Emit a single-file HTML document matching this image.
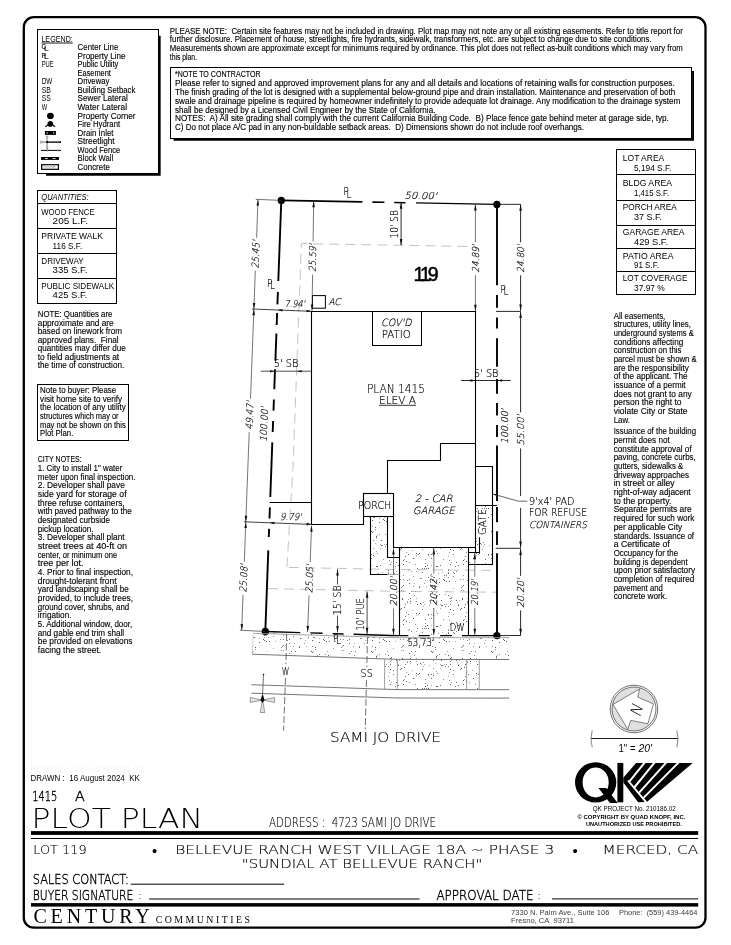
<!DOCTYPE html>
<html lang="en"><head><meta charset="utf-8"><title>Plot Plan - Lot 119</title>
<style>
html,body{margin:0;padding:0;background:#fff;}
body{width:731px;height:945px;overflow:hidden;}
svg{display:block;will-change:transform;}
text{font-family:"Liberation Sans", sans-serif;fill:#000;}
.bt{stroke:#000;stroke-width:0.13px;}
.b{font-weight:bold;}
.i{font-style:italic;}
.lt{font-family:"DejaVu Sans Light","DejaVu Sans","Liberation Sans", sans-serif;font-weight:200;}
.lt2{font-family:"DejaVu Sans Light","DejaVu Sans","Liberation Sans", sans-serif;font-weight:200;stroke:#000;stroke-width:0.14px;}
.lt3{font-family:"DejaVu Sans Light","DejaVu Sans","Liberation Sans", sans-serif;font-weight:200;stroke:#000;stroke-width:0.42px;}
.pl{font-family:"DejaVu Sans Light","DejaVu Sans","Liberation Sans", sans-serif;font-weight:200;stroke:#000;stroke-width:0.16px;}
.se{font-family:"Liberation Serif",serif;}
</style></head><body>
<svg width="731" height="945" viewBox="0 0 731 945">
<rect x="23.8" y="17.2" width="681.7" height="910.5" rx="10" ry="10" fill="none" stroke="#000" stroke-width="2.3"/>
<rect x="37.5" y="29.5" width="121" height="144" fill="none" stroke="#000" stroke-width="1" />
<path d="M46 174.85 H159.75 V35.7" fill="none" stroke="#000" stroke-width="1.8" />
<text x="41.4" y="41.9" font-size="9.6" textLength="31.4" lengthAdjust="spacingAndGlyphs">LEGEND:</text>
<line x1="41.4" y1="43.0" x2="72.8" y2="43.0" stroke="#000" stroke-width="0.9" />
<text x="77.6" y="49.9" font-size="8.3" textLength="40.7" lengthAdjust="spacingAndGlyphs" class="bt">Center Line</text>
<text x="77.6" y="58.5" font-size="8.3" textLength="47.9" lengthAdjust="spacingAndGlyphs" class="bt">Property Line</text>
<text x="77.6" y="67.0" font-size="8.3" textLength="40.7" lengthAdjust="spacingAndGlyphs" class="bt">Public Utility</text>
<text x="77.6" y="75.6" font-size="8.3" textLength="33.3" lengthAdjust="spacingAndGlyphs" class="bt">Easement</text>
<text x="77.6" y="84.2" font-size="8.3" textLength="31.8" lengthAdjust="spacingAndGlyphs" class="bt">Driveway</text>
<text x="77.6" y="92.8" font-size="8.3" textLength="57.7" lengthAdjust="spacingAndGlyphs" class="bt">Building Setback</text>
<text x="77.6" y="101.3" font-size="8.3" textLength="50.3" lengthAdjust="spacingAndGlyphs" class="bt">Sewer Lateral</text>
<text x="77.6" y="109.9" font-size="8.3" textLength="49.4" lengthAdjust="spacingAndGlyphs" class="bt">Water Lateral</text>
<text x="77.6" y="118.5" font-size="8.3" textLength="58.0" lengthAdjust="spacingAndGlyphs" class="bt">Property Corner</text>
<text x="77.6" y="127.0" font-size="8.3" textLength="42.5" lengthAdjust="spacingAndGlyphs" class="bt">Fire Hydrant</text>
<text x="77.6" y="135.6" font-size="8.3" textLength="35.9" lengthAdjust="spacingAndGlyphs" class="bt">Drain Inlet</text>
<text x="77.6" y="144.2" font-size="8.3" textLength="37.0" lengthAdjust="spacingAndGlyphs" class="bt">Streetlight</text>
<text x="77.6" y="152.7" font-size="8.3" textLength="42.5" lengthAdjust="spacingAndGlyphs" class="bt">Wood Fence</text>
<text x="77.6" y="161.3" font-size="8.3" textLength="35.5" lengthAdjust="spacingAndGlyphs" class="bt">Block Wall</text>
<text x="77.6" y="169.9" font-size="8.3" textLength="32.2" lengthAdjust="spacingAndGlyphs" class="bt">Concrete</text>
<text x="41.4" y="49.3" font-size="7.6" textLength="4.4" lengthAdjust="spacingAndGlyphs" style="stroke:#000;stroke-width:0.15">C</text>
<text x="44.0" y="50.8" font-size="7.6" textLength="4.6" lengthAdjust="spacingAndGlyphs" style="stroke:#000;stroke-width:0.15">L</text>
<text x="41.4" y="57.87" font-size="7.6" textLength="4.4" lengthAdjust="spacingAndGlyphs" style="stroke:#000;stroke-width:0.15">P</text>
<text x="44.0" y="59.37" font-size="7.6" textLength="4.6" lengthAdjust="spacingAndGlyphs" style="stroke:#000;stroke-width:0.15">L</text>
<text x="41.7" y="67.0" font-size="8.3" textLength="12.0" lengthAdjust="spacingAndGlyphs">PUE</text>
<text x="41.7" y="84.2" font-size="8.3" textLength="10.6" lengthAdjust="spacingAndGlyphs">DW</text>
<text x="41.7" y="92.8" font-size="8.3" textLength="9.1" lengthAdjust="spacingAndGlyphs">SB</text>
<text x="41.7" y="101.3" font-size="8.3" textLength="9.1" lengthAdjust="spacingAndGlyphs">SS</text>
<text x="41.7" y="109.9" font-size="8.3" textLength="5.4" lengthAdjust="spacingAndGlyphs">W</text>
<ellipse cx="50.4" cy="115.9" rx="3.4" ry="3.1" fill="#000"/>
<circle cx="50.3" cy="123.9" r="2.8" fill="#000"/>
<line x1="45.3" y1="126.7" x2="48.2" y2="124.8" stroke="#000" stroke-width="1.2" />
<line x1="55.1" y1="126.7" x2="52.4" y2="124.8" stroke="#000" stroke-width="1.2" />
<rect x="44.9" y="131.0" width="11.0" height="3.9" fill="#000" stroke="#000" stroke-width="0" />
<circle cx="47.2" cy="132.9" r="0.65" fill="#fff"/>
<circle cx="53.7" cy="132.9" r="0.65" fill="#fff"/>
<polygon points="47.1,142.1 40.2,140.9 40.2,143.3" fill="#bbb" stroke="#777" stroke-width="0.4"/>
<polygon points="47.1,142.1 46.2,136.0 48.0,136.0" fill="#bbb" stroke="#777" stroke-width="0.4"/>
<polygon points="47.1,142.1 46.2,149.0 48.0,149.0" fill="#bbb" stroke="#777" stroke-width="0.4"/>
<line x1="46.5" y1="142.1" x2="60.8" y2="142.1" stroke="#000" stroke-width="1.3" />
<rect x="46.2" y="141.1" width="1.9" height="2.0" fill="#000" stroke="#000" stroke-width="0" />
<rect x="59.6" y="141.3" width="1.3" height="1.6" fill="#000" stroke="#000" stroke-width="0" />
<line x1="41.0" y1="150.4" x2="61.0" y2="150.4" stroke="#000" stroke-width="1.0" />
<line x1="47.5" y1="149.3" x2="47.5" y2="151.5" stroke="#888" stroke-width="0.7" />
<line x1="57.5" y1="149.3" x2="57.5" y2="151.5" stroke="#888" stroke-width="0.7" />
<rect x="41.0" y="157.0" width="18.0" height="2.9" fill="#000" stroke="#000" stroke-width="0" />
<line x1="44.9" y1="158.5" x2="47.9" y2="158.5" stroke="#fff" stroke-width="0.8" />
<line x1="52.7" y1="158.5" x2="55.6" y2="158.5" stroke="#fff" stroke-width="0.8" />
<rect x="41.6" y="164.7" width="16.8" height="4.6" fill="none" stroke="#000" stroke-width="1.2" />
<rect x="42.3" y="165.4" width="15.4" height="3.2" fill="url(#stp)" stroke="#000" stroke-width="0" />
<path d="M43.5 167.8 L45 166.2 L46.5 167.8 L48 166.2 L49.5 167.8 L51 166.2 L52.5 167.8 L54 166.2 L55.5 167.6" fill="none" stroke="#555" stroke-width="0.5" />
<text x="169.8" y="33.8" font-size="8.3" textLength="513.0" lengthAdjust="spacingAndGlyphs" class="bt">PLEASE NOTE:  Certain site features may not be included in drawing. Plot map may not note any or all existing easements. Refer to title report for</text>
<text x="169.8" y="42.4" font-size="8.3" textLength="481.8" lengthAdjust="spacingAndGlyphs" class="bt">further disclosure. Placement of house, streetlights, fire hydrants, sidewalk, transformers, etc. are subject to change due to site conditions.</text>
<text x="169.8" y="51.1" font-size="8.3" textLength="513.0" lengthAdjust="spacingAndGlyphs" class="bt">Measurements shown are approximate except for minimums required by ordinance. This plot does not reflect as-built conditions which may vary from</text>
<text x="169.8" y="59.7" font-size="8.3" textLength="27.1" lengthAdjust="spacingAndGlyphs" class="bt">this plan.</text>
<rect x="170.5" y="67.5" width="521" height="71" fill="none" stroke="#000" stroke-width="1" />
<path d="M173.5 139.9 H693.05 V71" fill="none" stroke="#000" stroke-width="1.9" />
<text x="175.0" y="77.3" font-size="8.3" textLength="85.5" lengthAdjust="spacingAndGlyphs" class="bt">*NOTE TO CONTRACTOR</text>
<text x="175.0" y="86.1" font-size="8.3" textLength="499.8" lengthAdjust="spacingAndGlyphs" class="bt">Please refer to signed and approved improvement plans for any and all details and locations of retaining walls for construction purposes.</text>
<text x="175.0" y="94.9" font-size="8.3" textLength="500.2" lengthAdjust="spacingAndGlyphs" class="bt">The finish grading of the lot is designed with a supplemental below-ground pipe and drain installation. Maintenance and preservation of both</text>
<text x="175.0" y="103.7" font-size="8.3" textLength="505.4" lengthAdjust="spacingAndGlyphs" class="bt">swale and drainage pipeline is required by homeowner indefinitely to provide adequate lot drainage. Any modification to the drainage system</text>
<text x="175.0" y="112.5" font-size="8.3" textLength="260.4" lengthAdjust="spacingAndGlyphs" class="bt">shall be designed by a Licensed Civil Engineer by the State of California.</text>
<text x="175.0" y="121.3" font-size="8.3" textLength="493.9" lengthAdjust="spacingAndGlyphs" class="bt">NOTES:  A) All site grading shall comply with the current California Building Code.  B) Place fence gate behind meter at garage side, typ.</text>
<text x="175.0" y="130.1" font-size="8.3" textLength="409.1" lengthAdjust="spacingAndGlyphs" class="bt">C) Do not place A/C pad in any non-buildable setback areas.  D) Dimensions shown do not include roof overhangs.</text>
<rect x="37.5" y="190.5" width="79" height="113" fill="none" stroke="#000" stroke-width="1" />
<line x1="37.5" y1="203.5" x2="116.5" y2="203.5" stroke="#000" stroke-width="1" />
<line x1="37.5" y1="228.5" x2="116.5" y2="228.5" stroke="#000" stroke-width="1" />
<line x1="37.5" y1="253.5" x2="116.5" y2="253.5" stroke="#000" stroke-width="1" />
<line x1="37.5" y1="278.5" x2="116.5" y2="278.5" stroke="#000" stroke-width="1" />
<text x="41.3" y="199.5" font-size="8.2" textLength="47.4" lengthAdjust="spacingAndGlyphs" class="i">QUANTITIES:</text>
<text x="41.3" y="214.9" font-size="9.0" textLength="53.3" lengthAdjust="spacingAndGlyphs">WOOD FENCE</text>
<text x="52.6" y="223.8" font-size="9.0" textLength="35.5" lengthAdjust="spacingAndGlyphs">205 L.F.</text>
<text x="41.3" y="239.2" font-size="9.0" textLength="61.6" lengthAdjust="spacingAndGlyphs">PRIVATE WALK</text>
<text x="52.6" y="248.7" font-size="9.0" textLength="29.6" lengthAdjust="spacingAndGlyphs">116 S.F.</text>
<text x="41.3" y="263.8" font-size="9.0" textLength="42.3" lengthAdjust="spacingAndGlyphs">DRIVEWAY</text>
<text x="52.6" y="273.2" font-size="9.0" textLength="34.9" lengthAdjust="spacingAndGlyphs">335 S.F.</text>
<text x="41.3" y="288.6" font-size="9.0" textLength="72.8" lengthAdjust="spacingAndGlyphs">PUBLIC SIDEWALK</text>
<text x="52.6" y="298.1" font-size="9.0" textLength="34.9" lengthAdjust="spacingAndGlyphs">425 S.F.</text>
<text x="37.8" y="316.9" font-size="8.6" textLength="74.6" lengthAdjust="spacingAndGlyphs" class="bt">NOTE: Quantities are</text>
<text x="37.8" y="325.5" font-size="8.6" textLength="75.9" lengthAdjust="spacingAndGlyphs" class="bt">approximate and are</text>
<text x="37.8" y="334.1" font-size="8.6" textLength="84.3" lengthAdjust="spacingAndGlyphs" class="bt">based on linework from</text>
<text x="37.8" y="342.7" font-size="8.6" textLength="80.8" lengthAdjust="spacingAndGlyphs" class="bt">approved plans.  Final</text>
<text x="37.8" y="351.2" font-size="8.6" textLength="87.9" lengthAdjust="spacingAndGlyphs" class="bt">quantities may differ due</text>
<text x="37.8" y="359.8" font-size="8.6" textLength="81.4" lengthAdjust="spacingAndGlyphs" class="bt">to field adjustments at</text>
<text x="37.8" y="368.4" font-size="8.6" textLength="86.4" lengthAdjust="spacingAndGlyphs" class="bt">the time of construction.</text>
<rect x="37.5" y="384.5" width="91" height="56" fill="none" stroke="#000" stroke-width="1" />
<text x="40.1" y="393.2" font-size="8.6" textLength="76.1" lengthAdjust="spacingAndGlyphs" class="bt">Note to buyer: Please</text>
<text x="40.1" y="401.8" font-size="8.6" textLength="82.0" lengthAdjust="spacingAndGlyphs" class="bt">visit home site to verify</text>
<text x="40.1" y="410.4" font-size="8.6" textLength="85.6" lengthAdjust="spacingAndGlyphs" class="bt">the location of any utility</text>
<text x="40.1" y="419.0" font-size="8.6" textLength="78.5" lengthAdjust="spacingAndGlyphs" class="bt">structures which may or</text>
<text x="40.1" y="427.5" font-size="8.6" textLength="85.6" lengthAdjust="spacingAndGlyphs" class="bt">may not be shown on this</text>
<text x="40.1" y="436.1" font-size="8.6" textLength="33.2" lengthAdjust="spacingAndGlyphs" class="bt">Plot Plan.</text>
<text x="37.8" y="462.3" font-size="8.6" textLength="43.9" lengthAdjust="spacingAndGlyphs" class="bt">CITY NOTES:</text>
<text x="37.8" y="471.0" font-size="8.6" textLength="84.5" lengthAdjust="spacingAndGlyphs" class="bt">1. City to install 1" water</text>
<text x="37.8" y="479.6" font-size="8.6" textLength="97.7" lengthAdjust="spacingAndGlyphs" class="bt">meter upon final inspection.</text>
<text x="37.8" y="488.3" font-size="8.6" textLength="87.0" lengthAdjust="spacingAndGlyphs" class="bt">2. Developer shall pave</text>
<text x="37.8" y="497.0" font-size="8.6" textLength="88.8" lengthAdjust="spacingAndGlyphs" class="bt">side yard for storage of</text>
<text x="37.8" y="505.6" font-size="8.6" textLength="86.8" lengthAdjust="spacingAndGlyphs" class="bt">three refuse containers,</text>
<text x="37.8" y="514.3" font-size="8.6" textLength="93.9" lengthAdjust="spacingAndGlyphs" class="bt">with paved pathway to the</text>
<text x="37.8" y="523.0" font-size="8.6" textLength="72.3" lengthAdjust="spacingAndGlyphs" class="bt">designated curbside</text>
<text x="37.8" y="531.6" font-size="8.6" textLength="55.8" lengthAdjust="spacingAndGlyphs" class="bt">pickup location.</text>
<text x="37.8" y="540.3" font-size="8.6" textLength="86.8" lengthAdjust="spacingAndGlyphs" class="bt">3. Developer shall plant</text>
<text x="37.8" y="549.0" font-size="8.6" textLength="89.3" lengthAdjust="spacingAndGlyphs" class="bt">street trees at 40-ft on</text>
<text x="37.8" y="557.6" font-size="8.6" textLength="79.4" lengthAdjust="spacingAndGlyphs" class="bt">center, or minimum one</text>
<text x="37.8" y="566.3" font-size="8.6" textLength="45.7" lengthAdjust="spacingAndGlyphs" class="bt">tree per lot.</text>
<text x="37.8" y="575.0" font-size="8.6" textLength="95.2" lengthAdjust="spacingAndGlyphs" class="bt">4. Prior to final inspection,</text>
<text x="37.8" y="583.6" font-size="8.6" textLength="78.7" lengthAdjust="spacingAndGlyphs" class="bt">drought-tolerant front</text>
<text x="37.8" y="592.3" font-size="8.6" textLength="90.9" lengthAdjust="spacingAndGlyphs" class="bt">yard landscaping shall be</text>
<text x="37.8" y="601.0" font-size="8.6" textLength="95.2" lengthAdjust="spacingAndGlyphs" class="bt">provided, to include trees,</text>
<text x="37.8" y="609.6" font-size="8.6" textLength="91.4" lengthAdjust="spacingAndGlyphs" class="bt">ground cover, shrubs, and</text>
<text x="37.8" y="618.3" font-size="8.6" textLength="33.7" lengthAdjust="spacingAndGlyphs" class="bt">irrigation.</text>
<text x="37.8" y="627.0" font-size="8.6" textLength="94.4" lengthAdjust="spacingAndGlyphs" class="bt">5. Additional window, door,</text>
<text x="37.8" y="635.6" font-size="8.6" textLength="86.3" lengthAdjust="spacingAndGlyphs" class="bt">and gable end trim shall</text>
<text x="37.8" y="644.3" font-size="8.6" textLength="94.7" lengthAdjust="spacingAndGlyphs" class="bt">be provided on elevations</text>
<text x="37.8" y="653.0" font-size="8.6" textLength="63.4" lengthAdjust="spacingAndGlyphs" class="bt">facing the street.</text>
<rect x="616.5" y="149.5" width="79" height="145" fill="none" stroke="#000" stroke-width="1" />
<line x1="616.5" y1="174.5" x2="695.5" y2="174.5" stroke="#000" stroke-width="1" />
<line x1="616.5" y1="200.5" x2="695.5" y2="200.5" stroke="#000" stroke-width="1" />
<line x1="616.5" y1="225.5" x2="695.5" y2="225.5" stroke="#000" stroke-width="1" />
<line x1="616.5" y1="248.5" x2="695.5" y2="248.5" stroke="#000" stroke-width="1" />
<line x1="616.5" y1="271.5" x2="695.5" y2="271.5" stroke="#000" stroke-width="1" />
<text x="622.8" y="160.8" font-size="9.0" textLength="41.5" lengthAdjust="spacingAndGlyphs">LOT AREA</text>
<text x="634.0" y="170.9" font-size="9.0" textLength="37.4" lengthAdjust="spacingAndGlyphs">5,194 S.F.</text>
<text x="622.8" y="185.7" font-size="9.0" textLength="49.2" lengthAdjust="spacingAndGlyphs">BLDG AREA</text>
<text x="634.0" y="195.7" font-size="9.0" textLength="35.1" lengthAdjust="spacingAndGlyphs">1,415 S.F.</text>
<text x="622.8" y="210.4" font-size="9.0" textLength="54.0" lengthAdjust="spacingAndGlyphs">PORCH AREA</text>
<text x="634.0" y="220.2" font-size="9.0" textLength="28.0" lengthAdjust="spacingAndGlyphs">37 S.F.</text>
<text x="622.8" y="235.1" font-size="9.0" textLength="61.7" lengthAdjust="spacingAndGlyphs">GARAGE AREA</text>
<text x="634.0" y="245.1" font-size="9.0" textLength="34.1" lengthAdjust="spacingAndGlyphs">429 S.F.</text>
<text x="622.8" y="258.8" font-size="9.0" textLength="50.7" lengthAdjust="spacingAndGlyphs">PATIO AREA</text>
<text x="634.0" y="268.3" font-size="9.0" textLength="24.9" lengthAdjust="spacingAndGlyphs">91 S.F.</text>
<text x="622.8" y="281.4" font-size="9.0" textLength="64.6" lengthAdjust="spacingAndGlyphs">LOT COVERAGE</text>
<text x="634.0" y="291.4" font-size="9.0" textLength="30.8" lengthAdjust="spacingAndGlyphs">37.97 %</text>
<text x="613.7" y="318.6" font-size="8.6" textLength="51.6" lengthAdjust="spacingAndGlyphs" class="bt">All easements,</text>
<text x="613.7" y="327.3" font-size="8.6" textLength="77.3" lengthAdjust="spacingAndGlyphs" class="bt">structures, utility lines,</text>
<text x="613.7" y="336.0" font-size="8.6" textLength="80.1" lengthAdjust="spacingAndGlyphs" class="bt">underground systems &amp;</text>
<text x="613.7" y="344.6" font-size="8.6" textLength="69.5" lengthAdjust="spacingAndGlyphs" class="bt">conditions affecting</text>
<text x="613.7" y="353.3" font-size="8.6" textLength="67.8" lengthAdjust="spacingAndGlyphs" class="bt">construction on this</text>
<text x="613.7" y="362.0" font-size="8.6" textLength="83.1" lengthAdjust="spacingAndGlyphs" class="bt">parcel must be shown &amp;</text>
<text x="613.7" y="370.7" font-size="8.6" textLength="75.3" lengthAdjust="spacingAndGlyphs" class="bt">are the responsibility</text>
<text x="613.7" y="379.3" font-size="8.6" textLength="73.9" lengthAdjust="spacingAndGlyphs" class="bt">of the applicant. The</text>
<text x="613.7" y="388.0" font-size="8.6" textLength="71.9" lengthAdjust="spacingAndGlyphs" class="bt">issuance of a permit</text>
<text x="613.7" y="396.7" font-size="8.6" textLength="78.0" lengthAdjust="spacingAndGlyphs" class="bt">does not grant to any</text>
<text x="613.7" y="405.4" font-size="8.6" textLength="67.8" lengthAdjust="spacingAndGlyphs" class="bt">person the right to</text>
<text x="613.7" y="414.0" font-size="8.6" textLength="73.9" lengthAdjust="spacingAndGlyphs" class="bt">violate City or State</text>
<text x="613.7" y="422.7" font-size="8.6" textLength="16.3" lengthAdjust="spacingAndGlyphs" class="bt">Law.</text>
<text x="613.7" y="434.2" font-size="8.6" textLength="82.4" lengthAdjust="spacingAndGlyphs" class="bt">Issuance of the building</text>
<text x="613.7" y="442.9" font-size="8.6" textLength="56.0" lengthAdjust="spacingAndGlyphs" class="bt">permit does not</text>
<text x="613.7" y="451.6" font-size="8.6" textLength="78.0" lengthAdjust="spacingAndGlyphs" class="bt">constitute approval of</text>
<text x="613.7" y="460.3" font-size="8.6" textLength="82.1" lengthAdjust="spacingAndGlyphs" class="bt">paving, concrete curbs,</text>
<text x="613.7" y="469.0" font-size="8.6" textLength="69.5" lengthAdjust="spacingAndGlyphs" class="bt">gutters, sidewalks &amp;</text>
<text x="613.7" y="477.6" font-size="8.6" textLength="75.3" lengthAdjust="spacingAndGlyphs" class="bt">driveway approaches</text>
<text x="613.7" y="486.3" font-size="8.6" textLength="61.0" lengthAdjust="spacingAndGlyphs" class="bt">in street or alley</text>
<text x="613.7" y="495.0" font-size="8.6" textLength="77.0" lengthAdjust="spacingAndGlyphs" class="bt">right-of-way adjacent</text>
<text x="613.7" y="503.7" font-size="8.6" textLength="57.7" lengthAdjust="spacingAndGlyphs" class="bt">to the property.</text>
<text x="613.7" y="512.4" font-size="8.6" textLength="78.0" lengthAdjust="spacingAndGlyphs" class="bt">Separate permits are</text>
<text x="613.7" y="521.1" font-size="8.6" textLength="80.7" lengthAdjust="spacingAndGlyphs" class="bt">required for such work</text>
<text x="613.7" y="529.8" font-size="8.6" textLength="68.5" lengthAdjust="spacingAndGlyphs" class="bt">per applicable City</text>
<text x="613.7" y="538.5" font-size="8.6" textLength="80.4" lengthAdjust="spacingAndGlyphs" class="bt">standards. Issuance of</text>
<text x="613.7" y="547.2" font-size="8.6" textLength="56.0" lengthAdjust="spacingAndGlyphs" class="bt">a Certificate of</text>
<text x="613.7" y="555.9" font-size="8.6" textLength="64.4" lengthAdjust="spacingAndGlyphs" class="bt">Occupancy for the</text>
<text x="613.7" y="564.5" font-size="8.6" textLength="73.9" lengthAdjust="spacingAndGlyphs" class="bt">building is dependent</text>
<text x="613.7" y="573.2" font-size="8.6" textLength="81.4" lengthAdjust="spacingAndGlyphs" class="bt">upon prior satisfactory</text>
<text x="613.7" y="581.9" font-size="8.6" textLength="80.7" lengthAdjust="spacingAndGlyphs" class="bt">completion of required</text>
<text x="613.7" y="590.6" font-size="8.6" textLength="49.2" lengthAdjust="spacingAndGlyphs" class="bt">pavement and</text>
<text x="613.7" y="599.3" font-size="8.6" textLength="53.6" lengthAdjust="spacingAndGlyphs" class="bt">concrete work.</text>
<defs><pattern id="stp" width="60" height="60" patternUnits="userSpaceOnUse"><rect x="28" y="55" width="1" height="1" fill="#000" fill-opacity="0.65"/><rect x="28" y="32" width="1" height="1" fill="#000" fill-opacity="0.45"/><rect x="11" y="51" width="1" height="1" fill="#000" fill-opacity="0.65"/><rect x="40" y="39" width="1" height="1" fill="#000" fill-opacity="0.45"/><rect x="6" y="28" width="1" height="1" fill="#000" fill-opacity="0.55"/><rect x="9" y="5" width="1" height="1" fill="#000" fill-opacity="0.35"/><rect x="38" y="25" width="1" height="1" fill="#000" fill-opacity="0.65"/><rect x="41" y="47" width="1" height="1" fill="#000" fill-opacity="0.45"/><rect x="39" y="0" width="1" height="1" fill="#000" fill-opacity="0.35"/><rect x="3" y="2" width="1" height="1" fill="#000" fill-opacity="0.45"/><rect x="56" y="15" width="1" height="1" fill="#000" fill-opacity="0.35"/><rect x="49" y="29" width="1" height="1" fill="#000" fill-opacity="0.55"/><rect x="28" y="37" width="1" height="1" fill="#000" fill-opacity="0.45"/><rect x="33" y="14" width="1" height="1" fill="#000" fill-opacity="0.55"/><rect x="31" y="0" width="1" height="1" fill="#000" fill-opacity="0.35"/><rect x="29" y="41" width="1" height="1" fill="#000" fill-opacity="0.55"/><rect x="26" y="35" width="1" height="1" fill="#000" fill-opacity="0.35"/><rect x="45" y="16" width="1" height="1" fill="#000" fill-opacity="0.55"/><rect x="48" y="14" width="1" height="1" fill="#000" fill-opacity="0.55"/><rect x="1" y="4" width="1" height="1" fill="#000" fill-opacity="0.35"/><rect x="25" y="6" width="1" height="1" fill="#000" fill-opacity="0.55"/><rect x="24" y="4" width="1" height="1" fill="#000" fill-opacity="0.35"/><rect x="54" y="43" width="1" height="1" fill="#000" fill-opacity="0.35"/><rect x="13" y="13" width="1" height="1" fill="#000" fill-opacity="0.35"/><rect x="30" y="24" width="1" height="1" fill="#000" fill-opacity="0.65"/><rect x="26" y="4" width="1" height="1" fill="#000" fill-opacity="0.45"/><rect x="49" y="43" width="1" height="1" fill="#000" fill-opacity="0.55"/><rect x="21" y="5" width="1" height="1" fill="#000" fill-opacity="0.55"/><rect x="21" y="0" width="1" height="1" fill="#000" fill-opacity="0.65"/><rect x="48" y="59" width="1" height="1" fill="#000" fill-opacity="0.35"/><rect x="8" y="15" width="1" height="1" fill="#000" fill-opacity="0.35"/><rect x="0" y="3" width="1" height="1" fill="#000" fill-opacity="0.65"/><rect x="51" y="31" width="1" height="1" fill="#000" fill-opacity="0.45"/><rect x="43" y="35" width="1" height="1" fill="#000" fill-opacity="0.45"/><rect x="12" y="46" width="1" height="1" fill="#000" fill-opacity="0.45"/><rect x="26" y="41" width="1" height="1" fill="#000" fill-opacity="0.65"/><rect x="7" y="25" width="1" height="1" fill="#000" fill-opacity="0.65"/><rect x="13" y="0" width="1" height="1" fill="#000" fill-opacity="0.55"/><rect x="55" y="51" width="1" height="1" fill="#000" fill-opacity="0.55"/><rect x="56" y="1" width="1" height="1" fill="#000" fill-opacity="0.45"/><rect x="11" y="25" width="1" height="1" fill="#000" fill-opacity="0.35"/><rect x="2" y="9" width="1" height="1" fill="#000" fill-opacity="0.45"/><rect x="28" y="16" width="1" height="1" fill="#000" fill-opacity="0.35"/><rect x="49" y="39" width="1" height="1" fill="#000" fill-opacity="0.55"/><rect x="53" y="18" width="1" height="1" fill="#000" fill-opacity="0.65"/><rect x="4" y="4" width="1" height="1" fill="#000" fill-opacity="0.35"/><rect x="13" y="37" width="1" height="1" fill="#000" fill-opacity="0.45"/><rect x="0" y="38" width="1" height="1" fill="#000" fill-opacity="0.55"/><rect x="23" y="39" width="1" height="1" fill="#000" fill-opacity="0.65"/><rect x="8" y="37" width="1" height="1" fill="#000" fill-opacity="0.65"/><rect x="53" y="36" width="1" height="1" fill="#000" fill-opacity="0.45"/><rect x="55" y="24" width="1" height="1" fill="#000" fill-opacity="0.45"/><rect x="40" y="9" width="1" height="1" fill="#000" fill-opacity="0.55"/><rect x="58" y="14" width="1" height="1" fill="#000" fill-opacity="0.45"/><rect x="46" y="12" width="1" height="1" fill="#000" fill-opacity="0.45"/><rect x="47" y="40" width="1" height="1" fill="#000" fill-opacity="0.45"/><rect x="43" y="24" width="1" height="1" fill="#000" fill-opacity="0.65"/><rect x="38" y="5" width="1" height="1" fill="#000" fill-opacity="0.65"/><rect x="3" y="6" width="1" height="1" fill="#000" fill-opacity="0.35"/><rect x="2" y="32" width="1" height="1" fill="#000" fill-opacity="0.55"/><rect x="15" y="47" width="1" height="1" fill="#000" fill-opacity="0.65"/><rect x="16" y="26" width="1" height="1" fill="#000" fill-opacity="0.65"/><rect x="18" y="33" width="1" height="1" fill="#000" fill-opacity="0.45"/><rect x="59" y="46" width="1" height="1" fill="#000" fill-opacity="0.35"/><rect x="8" y="14" width="1" height="1" fill="#000" fill-opacity="0.65"/><rect x="35" y="41" width="1" height="1" fill="#000" fill-opacity="0.35"/><rect x="17" y="13" width="1" height="1" fill="#000" fill-opacity="0.45"/><rect x="47" y="1" width="1" height="1" fill="#000" fill-opacity="0.35"/><rect x="17" y="26" width="1" height="1" fill="#000" fill-opacity="0.65"/><rect x="15" y="3" width="1" height="1" fill="#000" fill-opacity="0.35"/><rect x="11" y="18" width="1" height="1" fill="#000" fill-opacity="0.55"/><rect x="33" y="36" width="1" height="1" fill="#000" fill-opacity="0.45"/><rect x="5" y="23" width="1" height="1" fill="#000" fill-opacity="0.45"/><rect x="57" y="28" width="1" height="1" fill="#000" fill-opacity="0.55"/><rect x="42" y="46" width="1" height="1" fill="#000" fill-opacity="0.45"/><rect x="37" y="2" width="1" height="1" fill="#000" fill-opacity="0.35"/><rect x="30" y="58" width="1" height="1" fill="#000" fill-opacity="0.55"/><rect x="44" y="19" width="1" height="1" fill="#000" fill-opacity="0.35"/><rect x="1" y="38" width="1" height="1" fill="#000" fill-opacity="0.35"/><rect x="30" y="4" width="1" height="1" fill="#000" fill-opacity="0.55"/><rect x="20" y="8" width="1" height="1" fill="#000" fill-opacity="0.35"/><rect x="4" y="28" width="1" height="1" fill="#000" fill-opacity="0.55"/><rect x="47" y="2" width="1" height="1" fill="#000" fill-opacity="0.45"/><rect x="50" y="58" width="1" height="1" fill="#000" fill-opacity="0.55"/><rect x="22" y="5" width="1" height="1" fill="#000" fill-opacity="0.65"/><rect x="57" y="4" width="1" height="1" fill="#000" fill-opacity="0.65"/><rect x="50" y="1" width="1" height="1" fill="#000" fill-opacity="0.65"/><rect x="36" y="0" width="1" height="1" fill="#000" fill-opacity="0.65"/><rect x="24" y="37" width="1" height="1" fill="#000" fill-opacity="0.35"/><rect x="38" y="4" width="1" height="1" fill="#000" fill-opacity="0.35"/><rect x="5" y="40" width="1" height="1" fill="#000" fill-opacity="0.35"/><rect x="16" y="56" width="1" height="1" fill="#000" fill-opacity="0.65"/><rect x="46" y="21" width="1" height="1" fill="#000" fill-opacity="0.65"/><rect x="59" y="47" width="1" height="1" fill="#000" fill-opacity="0.65"/><rect x="28" y="29" width="1" height="1" fill="#000" fill-opacity="0.35"/><rect x="33" y="48" width="1" height="1" fill="#000" fill-opacity="0.35"/><rect x="19" y="38" width="1" height="1" fill="#000" fill-opacity="0.35"/><rect x="30" y="1" width="1" height="1" fill="#000" fill-opacity="0.45"/><rect x="44" y="7" width="1" height="1" fill="#000" fill-opacity="0.65"/><rect x="42" y="58" width="1" height="1" fill="#000" fill-opacity="0.65"/><rect x="16" y="57" width="1" height="1" fill="#000" fill-opacity="0.35"/><rect x="23" y="19" width="1" height="1" fill="#000" fill-opacity="0.45"/><rect x="43" y="39" width="1" height="1" fill="#000" fill-opacity="0.45"/><rect x="33" y="10" width="1" height="1" fill="#000" fill-opacity="0.55"/><rect x="42" y="59" width="1" height="1" fill="#000" fill-opacity="0.65"/><rect x="31" y="57" width="1" height="1" fill="#000" fill-opacity="0.45"/><rect x="20" y="25" width="1" height="1" fill="#000" fill-opacity="0.55"/><rect x="12" y="40" width="1" height="1" fill="#000" fill-opacity="0.65"/><rect x="51" y="51" width="1" height="1" fill="#000" fill-opacity="0.45"/><rect x="56" y="13" width="1" height="1" fill="#000" fill-opacity="0.65"/><rect x="14" y="37" width="1" height="1" fill="#000" fill-opacity="0.55"/><rect x="13" y="8" width="1" height="1" fill="#000" fill-opacity="0.45"/><rect x="31" y="22" width="1" height="1" fill="#000" fill-opacity="0.35"/><rect x="45" y="4" width="1" height="1" fill="#000" fill-opacity="0.55"/><rect x="52" y="10" width="1" height="1" fill="#000" fill-opacity="0.35"/><rect x="28" y="30" width="1" height="1" fill="#000" fill-opacity="0.55"/><rect x="59" y="13" width="1" height="1" fill="#000" fill-opacity="0.65"/><rect x="24" y="40" width="1" height="1" fill="#000" fill-opacity="0.65"/><rect x="43" y="20" width="1" height="1" fill="#000" fill-opacity="0.65"/><rect x="20" y="4" width="1" height="1" fill="#000" fill-opacity="0.35"/><rect x="17" y="55" width="1" height="1" fill="#000" fill-opacity="0.35"/><rect x="43" y="45" width="1" height="1" fill="#000" fill-opacity="0.55"/><rect x="36" y="22" width="1" height="1" fill="#000" fill-opacity="0.55"/><rect x="41" y="50" width="1" height="1" fill="#000" fill-opacity="0.35"/><rect x="41" y="8" width="1" height="1" fill="#000" fill-opacity="0.65"/><rect x="29" y="12" width="1" height="1" fill="#000" fill-opacity="0.35"/><rect x="49" y="53" width="1" height="1" fill="#000" fill-opacity="0.55"/><rect x="15" y="49" width="1" height="1" fill="#000" fill-opacity="0.45"/><rect x="50" y="3" width="1" height="1" fill="#000" fill-opacity="0.35"/><rect x="28" y="6" width="1" height="1" fill="#000" fill-opacity="0.55"/><rect x="4" y="43" width="1" height="1" fill="#000" fill-opacity="0.45"/><rect x="12" y="52" width="1" height="1" fill="#000" fill-opacity="0.65"/><rect x="16" y="11" width="1" height="1" fill="#000" fill-opacity="0.35"/><rect x="48" y="30" width="1" height="1" fill="#000" fill-opacity="0.35"/><rect x="11" y="14" width="1" height="1" fill="#000" fill-opacity="0.55"/><rect x="49" y="22" width="1" height="1" fill="#000" fill-opacity="0.45"/><rect x="25" y="54" width="1" height="1" fill="#000" fill-opacity="0.45"/><rect x="5" y="26" width="1" height="1" fill="#000" fill-opacity="0.65"/><rect x="8" y="28" width="1" height="1" fill="#000" fill-opacity="0.65"/><rect x="56" y="58" width="1" height="1" fill="#000" fill-opacity="0.35"/><rect x="24" y="35" width="1" height="1" fill="#000" fill-opacity="0.55"/><rect x="29" y="20" width="1" height="1" fill="#000" fill-opacity="0.45"/><rect x="6" y="46" width="1" height="1" fill="#000" fill-opacity="0.35"/><rect x="13" y="15" width="1" height="1" fill="#000" fill-opacity="0.65"/><rect x="5" y="19" width="1" height="1" fill="#000" fill-opacity="0.55"/><rect x="16" y="58" width="1" height="1" fill="#000" fill-opacity="0.35"/><rect x="22" y="32" width="1" height="1" fill="#000" fill-opacity="0.35"/><rect x="2" y="28" width="1" height="1" fill="#000" fill-opacity="0.55"/><rect x="35" y="26" width="1" height="1" fill="#000" fill-opacity="0.55"/><rect x="31" y="58" width="1" height="1" fill="#000" fill-opacity="0.35"/><rect x="13" y="51" width="1" height="1" fill="#000" fill-opacity="0.35"/><rect x="27" y="51" width="1" height="1" fill="#000" fill-opacity="0.35"/><rect x="11" y="34" width="1" height="1" fill="#000" fill-opacity="0.55"/><rect x="43" y="50" width="1" height="1" fill="#000" fill-opacity="0.45"/><rect x="30" y="9" width="1" height="1" fill="#000" fill-opacity="0.65"/><rect x="56" y="31" width="1" height="1" fill="#000" fill-opacity="0.35"/><rect x="28" y="33" width="1" height="1" fill="#000" fill-opacity="0.55"/><rect x="53" y="46" width="1" height="1" fill="#000" fill-opacity="0.45"/><rect x="33" y="32" width="1" height="1" fill="#000" fill-opacity="0.55"/><rect x="19" y="42" width="1" height="1" fill="#000" fill-opacity="0.65"/><rect x="54" y="55" width="1" height="1" fill="#000" fill-opacity="0.45"/><rect x="19" y="54" width="1" height="1" fill="#000" fill-opacity="0.45"/><rect x="34" y="33" width="1" height="1" fill="#000" fill-opacity="0.55"/><rect x="36" y="31" width="1" height="1" fill="#000" fill-opacity="0.45"/><rect x="26" y="34" width="1" height="1" fill="#000" fill-opacity="0.35"/></pattern></defs>
<path d="M253.4 632.3 L395 636.6 L509.1 636.7 L509.1 659.5 L397 659.4 L252.2 654.2 Z" fill="url(#stp)" stroke="none"/>
<path d="M384.6 659.0 L397 659.4 L479.3 659.5 V689.7 L397 689.6 L384.6 689.2 Z" fill="url(#stp)"/>
<path d="M399.5 547.5 H468.5 V636 L399.5 636 Z" fill="url(#stp)"/>
<path d="M370.5 516.5 H387.5 V557.5 H399.5 V574.5 H370.5 Z" fill="url(#stp)"/>
<path d="M475.5 505.5 H492.5 V564.5 H468.5 V552.5 H475.5 Z" fill="url(#stp)"/>
<path d="M286.9 567.3 L293.1 465 L301.4 243.6 L475.4 246.6" fill="none" stroke="#b2b2b2" stroke-width="0.8" stroke-dasharray="10 6"/>
<path d="M289.0 567.4 L400 569.6 L497 570.3" fill="none" stroke="#b2b2b2" stroke-width="0.8" stroke-dasharray="10 6"/>
<path d="M268.0 588.6 L400 591.4 L497 592.2" fill="none" stroke="#b2b2b2" stroke-width="0.8" stroke-dasharray="10 6"/>
<path d="M311.5 524.5 V311.5 H475.5 V552.5" fill="none" stroke="#000" stroke-width="1.1" />
<path d="M311.5 524.5 H363.5 V516.5" fill="none" stroke="#000" stroke-width="1.1" />
<rect x="363.5" y="493.5" width="30" height="23" fill="none" stroke="#000" stroke-width="1.1" />
<path d="M387.5 493.5 V460.5 H440.5 V443.5 H475.5" fill="none" stroke="#000" stroke-width="1.1" />
<path d="M387.5 516.5 V557.5 H399.5" fill="none" stroke="#000" stroke-width="1.1" />
<path d="M393.5 516.5 V547.5 H468.5" fill="none" stroke="#000" stroke-width="1.1" />
<path d="M399.5 547.5 V635.6" fill="none" stroke="#000" stroke-width="1.1" />
<path d="M468.5 547.5 V635.6" fill="none" stroke="#000" stroke-width="1.1" />
<path d="M370.5 516.5 V574.5 H387.5" fill="none" stroke="#000" stroke-width="1.1" />
<line x1="387.5" y1="574.5" x2="399.5" y2="574.5" stroke="#999" stroke-width="0.9" />
<path d="M475.5 547.5 H468.5" fill="none" stroke="#000" stroke-width="1.1" />
<path d="M479.5 537.3 V552.5 H468.5" fill="none" stroke="#000" stroke-width="1.1" />
<path d="M475.5 466.5 H492.5 V564.5 H468.5" fill="none" stroke="#000" stroke-width="1.1" />
<line x1="475.5" y1="505.5" x2="496.9" y2="505.5" stroke="#000" stroke-width="1.0" />
<line x1="269.6" y1="502.5" x2="311.5" y2="502.5" stroke="#000" stroke-width="1.0" />
<rect x="372.5" y="311.5" width="49" height="34" fill="none" stroke="#000" stroke-width="1.0" />
<rect x="312.5" y="295.6" width="12.9" height="12.6" fill="none" stroke="#000" stroke-width="1.0" />
<line x1="281.3" y1="200.4" x2="362.4" y2="201.9" stroke="#000" stroke-width="1.7" />
<line x1="372.4" y1="202.1" x2="384.4" y2="202.3" stroke="#000" stroke-width="1.6" />
<line x1="394.2" y1="202.5" x2="405.5" y2="202.7" stroke="#000" stroke-width="1.6" />
<line x1="416.0" y1="202.9" x2="496.9" y2="204.4" stroke="#000" stroke-width="1.4" />
<line x1="281.3" y1="200.3" x2="278.3" y2="281" stroke="#000" stroke-width="1.9" />
<line x1="277.9" y1="292" x2="277.4" y2="304.4" stroke="#000" stroke-width="1.9" />
<line x1="277.1" y1="313" x2="276.7" y2="325" stroke="#000" stroke-width="1.9" />
<line x1="276.4" y1="333.5" x2="275.4" y2="360.6" stroke="#000" stroke-width="1.9" />
<line x1="275.0" y1="369.3" x2="274.3" y2="389.3" stroke="#000" stroke-width="1.9" />
<line x1="273.9" y1="399.5" x2="273.5" y2="410.6" stroke="#000" stroke-width="1.9" />
<line x1="273.1" y1="421.0" x2="272.7" y2="432.0" stroke="#000" stroke-width="1.9" />
<line x1="272.3" y1="442.4" x2="270.3" y2="497" stroke="#000" stroke-width="1.9" />
<line x1="269.9" y1="507.4" x2="269.5" y2="518.5" stroke="#000" stroke-width="1.9" />
<line x1="269.1" y1="528.9" x2="268.8" y2="537.0" stroke="#000" stroke-width="1.9" />
<line x1="268.3" y1="550.4" x2="265.3" y2="631.5" stroke="#000" stroke-width="1.9" />
<line x1="497.0" y1="204.4" x2="497.0" y2="285.2" stroke="#000" stroke-width="1.9" />
<line x1="497.0" y1="295.0" x2="497.0" y2="307.8" stroke="#000" stroke-width="1.9" />
<line x1="497.0" y1="317.5" x2="497.0" y2="328.5" stroke="#000" stroke-width="1.9" />
<line x1="497.0" y1="338.2" x2="497.0" y2="366.8" stroke="#000" stroke-width="1.9" />
<line x1="497.0" y1="379.1" x2="497.0" y2="393.7" stroke="#000" stroke-width="1.9" />
<line x1="497.0" y1="403.0" x2="497.0" y2="415.6" stroke="#000" stroke-width="1.9" />
<line x1="497.0" y1="424.9" x2="497.0" y2="436.9" stroke="#000" stroke-width="1.9" />
<line x1="497.0" y1="445.6" x2="497.0" y2="500.9" stroke="#000" stroke-width="1.9" />
<line x1="497.0" y1="507.1" x2="497.0" y2="522.2" stroke="#000" stroke-width="1.9" />
<line x1="497.0" y1="531.2" x2="497.0" y2="544.9" stroke="#000" stroke-width="1.9" />
<line x1="497.0" y1="553.2" x2="497.0" y2="635.5" stroke="#000" stroke-width="1.9" />
<path d="M265.3 631.5 L390 635.45 Q395 635.6 400 635.6 L497 635.6" fill="none" stroke="#000" stroke-width="1.4" stroke-dasharray="35 10 12.3 10 11 10 46 0 8.8 10.4 11 10.4 12 9.8 40 0"/>
<circle cx="281.3" cy="200.4" r="3.65" fill="#000"/>
<circle cx="496.9" cy="204.4" r="3.65" fill="#000"/>
<circle cx="496.9" cy="635.6" r="3.65" fill="#000"/>
<circle cx="265.3" cy="631.5" r="3.65" fill="#000"/>
<path d="M253.4 633.3 L390 637.5 Q395 637.65 400 637.65 L509.1 637.7" fill="none" stroke="#999" stroke-width="0.9"/>
<line x1="253.4" y1="633.3" x2="252.2" y2="654.2" stroke="#bbb" stroke-width="0.6" />
<path d="M252.2 654.2 L390 659.15 Q395 659.35 400 659.4 L509.1 659.5" fill="none" stroke="#666" stroke-width="0.9"/>
<path d="M251.4 684.7 L390 689.4 Q395 689.6 400 689.6 L509.1 689.7" fill="none" stroke="#666" stroke-width="0.9"/>
<path d="M251.4 693.2 L390 697.75 Q395 697.95 400 698.0 L509.1 698.1" fill="none" stroke="#666" stroke-width="0.9"/>
<line x1="384.6" y1="659.2" x2="384.6" y2="689.5" stroke="#888" stroke-width="0.8" />
<line x1="397.3" y1="659.2" x2="397.3" y2="689.5" stroke="#888" stroke-width="0.8" />
<line x1="466.6" y1="659.2" x2="466.6" y2="689.5" stroke="#888" stroke-width="0.8" />
<line x1="479.3" y1="659.2" x2="479.3" y2="689.5" stroke="#888" stroke-width="0.8" />
<line x1="286.7" y1="634" x2="285.9" y2="664" stroke="#333" stroke-width="0.7" stroke-dasharray="7 2.5"/>
<line x1="285.5" y1="678" x2="283.6" y2="730.5" stroke="#333" stroke-width="0.7" stroke-dasharray="7 2.5"/>
<line x1="367.5" y1="637" x2="366.8" y2="667" stroke="#333" stroke-width="0.7" stroke-dasharray="7 2.5"/>
<line x1="366.5" y1="680" x2="365.3" y2="729.5" stroke="#333" stroke-width="0.7" stroke-dasharray="7 2.5"/>
<text x="281.7" y="675.1" font-size="11" textLength="7.6" lengthAdjust="spacingAndGlyphs" class="pl">W</text>
<text x="360.5" y="676.7" font-size="9.6" textLength="12.3" lengthAdjust="spacingAndGlyphs" class="pl">SS</text>
<line x1="263.5" y1="674.6" x2="262.6" y2="694" stroke="#333" stroke-width="0.7" />
<polygon points="263.5,673.6 264.5,674.6 263.5,675.6 262.5,674.6" fill="#222"/>
<polygon points="262.5,700 250.3,697.4 250.3,702.4" fill="#e2e2e2" stroke="#444" stroke-width="0.5"/>
<polygon points="262.5,700 274.7,697.4 274.7,702.4" fill="#e2e2e2" stroke="#444" stroke-width="0.5"/>
<polygon points="262.5,700 260.2,712.5 264.8,712.5" fill="#e2e2e2" stroke="#444" stroke-width="0.5"/>
<polygon points="262.6,693.8 264.6,700.2 262.5,703 260.4,700.2" fill="#000"/>
<line x1="258.0" y1="199.4" x2="256.6" y2="237.8" stroke="#3a3a3a" stroke-width="0.7" />
<line x1="255.3" y1="270.7" x2="253.9" y2="309.1" stroke="#3a3a3a" stroke-width="0.7" />
<text x="0" y="0" font-size="9.6" text-anchor="middle" textLength="28" lengthAdjust="spacingAndGlyphs" transform="translate(259.1 254.4) rotate(-87.9)" class="pl i">25.45'</text>
<polygon points="258.0,199.4 259.1,205.6 256.5,205.5" fill="#111"/>
<polygon points="253.9,309.1 252.8,302.9 255.4,303.0" fill="#111"/>
<line x1="253.9" y1="309.1" x2="250.5" y2="398.8" stroke="#3a3a3a" stroke-width="0.7" />
<line x1="249.2" y1="432.2" x2="245.8" y2="521.9" stroke="#3a3a3a" stroke-width="0.7" />
<text x="0" y="0" font-size="9.6" text-anchor="middle" textLength="28.5" lengthAdjust="spacingAndGlyphs" transform="translate(253.0 415.6) rotate(-87.8)" class="pl i">49.47'</text>
<polygon points="253.9,309.1 255.0,315.3 252.4,315.2" fill="#111"/>
<polygon points="245.8,521.9 244.7,515.7 247.3,515.8" fill="#111"/>
<line x1="245.8" y1="521.9" x2="244.3" y2="561.8" stroke="#3a3a3a" stroke-width="0.7" />
<line x1="243.0" y1="594.8" x2="241.7" y2="630.3" stroke="#3a3a3a" stroke-width="0.7" />
<text x="0" y="0" font-size="9.6" text-anchor="middle" textLength="28" lengthAdjust="spacingAndGlyphs" transform="translate(246.9 578.4) rotate(-87.8)" class="pl i">25.08'</text>
<polygon points="245.8,521.9 246.9,528.1 244.3,528.0" fill="#111"/>
<polygon points="241.7,630.3 240.6,624.1 243.2,624.2" fill="#111"/>
<line x1="255.8" y1="199.3" x2="281.3" y2="200.4" stroke="#3a3a3a" stroke-width="0.7" />
<line x1="252.0" y1="309.0" x2="311.5" y2="311.3" stroke="#111" stroke-width="0.8" />
<line x1="244.0" y1="521.8" x2="311.5" y2="524.4" stroke="#111" stroke-width="0.8" />
<line x1="239.8" y1="630.2" x2="265.3" y2="631.5" stroke="#3a3a3a" stroke-width="0.7" />
<text x="0" y="0" font-size="9.6" text-anchor="middle" textLength="35" lengthAdjust="spacingAndGlyphs" transform="translate(267.3 424.5) rotate(-87.8)" class="pl i">100.00'</text>
<line x1="313.7" y1="201.0" x2="313.1" y2="241.5" stroke="#3a3a3a" stroke-width="0.7" />
<line x1="312.6" y1="274.5" x2="312.0" y2="310.6" stroke="#3a3a3a" stroke-width="0.7" />
<text x="0" y="0" font-size="9.6" text-anchor="middle" textLength="28" lengthAdjust="spacingAndGlyphs" transform="translate(316.0 258.0) rotate(-89.1)" class="pl i">25.59'</text>
<polygon points="313.7,201.0 314.9,207.2 312.3,207.2" fill="#111"/>
<polygon points="312.0,310.6 310.8,304.4 313.4,304.4" fill="#111"/>
<line x1="311.6" y1="525.5" x2="310.2" y2="562.0" stroke="#3a3a3a" stroke-width="0.7" />
<line x1="309.0" y1="595.5" x2="307.6" y2="632.0" stroke="#3a3a3a" stroke-width="0.7" />
<text x="0" y="0" font-size="9.6" text-anchor="middle" textLength="28.5" lengthAdjust="spacingAndGlyphs" transform="translate(312.8 578.9) rotate(-87.8)" class="pl i">25.05'</text>
<polygon points="311.6,525.5 312.7,531.7 310.1,531.6" fill="#111"/>
<polygon points="307.6,632.0 306.5,625.8 309.1,625.9" fill="#111"/>
<polygon points="277.4,310.0 282.4,308.9 282.4,311.5" fill="#111"/>
<polygon points="311.5,311.2 306.5,312.3 306.5,309.7" fill="#111"/>
<text x="284.5" y="306.8" font-size="9.6" textLength="20.5" lengthAdjust="spacingAndGlyphs" class="pl i">7.94'</text>
<polygon points="269.4,522.8 274.4,521.7 274.4,524.3" fill="#111"/>
<polygon points="311.5,524.3 306.5,525.4 306.5,522.8" fill="#111"/>
<text x="280.0" y="520.2" font-size="9.6" textLength="21.5" lengthAdjust="spacingAndGlyphs" class="pl i">9.79'</text>
<line x1="401.1" y1="202.6" x2="401.1" y2="245.2" stroke="#111" stroke-width="0.9" />
<polygon points="401.1,202.6 402.4,208.8 399.8,208.8" fill="#111"/>
<polygon points="401.1,245.2 399.8,239.0 402.4,239.0" fill="#111"/>
<text x="0" y="0" font-size="10.2" text-anchor="middle" textLength="28.5" lengthAdjust="spacingAndGlyphs" transform="translate(397.6 224.3) rotate(-90)" class="pl pl">10' SB</text>
<line x1="475.4" y1="204.2" x2="475.4" y2="242.2" stroke="#3a3a3a" stroke-width="0.7" />
<line x1="475.4" y1="275.2" x2="475.4" y2="311.0" stroke="#3a3a3a" stroke-width="0.7" />
<text x="0" y="0" font-size="9.6" text-anchor="middle" textLength="28" lengthAdjust="spacingAndGlyphs" transform="translate(478.6 258.7) rotate(-90.0)" class="pl i">24.89'</text>
<polygon points="475.4,204.2 476.7,210.4 474.1,210.4" fill="#111"/>
<polygon points="475.4,311.0 474.1,304.8 476.7,304.8" fill="#111"/>
<line x1="520.6" y1="204.6" x2="520.6" y2="242.3" stroke="#111" stroke-width="0.9" />
<line x1="520.6" y1="275.3" x2="520.6" y2="310.8" stroke="#111" stroke-width="0.9" />
<text x="0" y="0" font-size="9.6" text-anchor="middle" textLength="28" lengthAdjust="spacingAndGlyphs" transform="translate(523.8 258.8) rotate(-90.0)" class="pl i">24.80'</text>
<polygon points="520.6,204.6 521.9,210.8 519.3,210.8" fill="#111"/>
<polygon points="520.6,310.8 519.3,304.6 521.9,304.6" fill="#111"/>
<line x1="496.9" y1="204.4" x2="520.9" y2="204.3" stroke="#111" stroke-width="0.9" />
<line x1="496.0" y1="311.4" x2="520.9" y2="311.4" stroke="#111" stroke-width="0.9" />
<line x1="520.6" y1="311.8" x2="520.6" y2="412.3" stroke="#111" stroke-width="0.9" />
<line x1="520.6" y1="448.3" x2="520.6" y2="547.8" stroke="#111" stroke-width="0.9" />
<text x="0" y="0" font-size="9.6" text-anchor="middle" textLength="31" lengthAdjust="spacingAndGlyphs" transform="translate(523.8 430.3) rotate(-90.0)" class="pl i">55.00'</text>
<polygon points="520.6,311.8 521.9,318.0 519.3,318.0" fill="#111"/>
<polygon points="520.6,547.8 519.3,541.6 521.9,541.6" fill="#111"/>
<rect x="519" y="496.1" width="3.2" height="11.7" fill="#fff" stroke="#000" stroke-width="0" />
<line x1="495.7" y1="548.3" x2="520.9" y2="548.3" stroke="#111" stroke-width="0.9" />
<line x1="520.6" y1="548.8" x2="520.6" y2="575.9" stroke="#111" stroke-width="0.9" />
<line x1="520.6" y1="610.4" x2="520.6" y2="635.0" stroke="#111" stroke-width="0.9" />
<text x="0" y="0" font-size="9.6" text-anchor="middle" textLength="29.5" lengthAdjust="spacingAndGlyphs" transform="translate(523.8 593.2) rotate(-90.0)" class="pl i">20.20'</text>
<polygon points="520.6,548.8 521.9,555.0 519.3,555.0" fill="#111"/>
<polygon points="520.6,635.0 519.3,628.8 521.9,628.8" fill="#111"/>
<line x1="496.9" y1="635.6" x2="520.9" y2="635.5" stroke="#111" stroke-width="0.9" />
<text x="0" y="0" font-size="9.6" text-anchor="middle" textLength="35" lengthAdjust="spacingAndGlyphs" transform="translate(508.0 426.4) rotate(-90)" class="pl pl i">100.00'</text>
<line x1="260.8" y1="371.2" x2="311.5" y2="371.2" stroke="#222" stroke-width="0.8" />
<polygon points="275.0,371.2 270.0,372.5 270.0,369.9" fill="#222"/>
<polygon points="296.6,371.2 301.6,369.9 301.6,372.5" fill="#222"/>
<text x="273.8" y="367.3" font-size="9.6" textLength="24.7" lengthAdjust="spacingAndGlyphs" class="pl">5' SB</text>
<line x1="461.0" y1="380.5" x2="510.8" y2="380.5" stroke="#111" stroke-width="0.9" />
<polygon points="475.4,380.5 470.4,381.8 470.4,379.2" fill="#111"/>
<polygon points="497.2,380.5 502.2,379.2 502.2,381.8" fill="#111"/>
<text x="473.9" y="376.6" font-size="9.6" textLength="24.6" lengthAdjust="spacingAndGlyphs" class="pl">5' SB</text>
<line x1="337.5" y1="569.3" x2="337.5" y2="632.3" stroke="#222" stroke-width="0.8" />
<polygon points="337.5,569.3 338.8,575.5 336.2,575.5" fill="#111"/>
<polygon points="337.5,632.3 336.2,626.1 338.8,626.1" fill="#111"/>
<rect x="333" y="584.5" width="9" height="31" fill="#fff" stroke="#000" stroke-width="0" />
<text x="0" y="0" font-size="10.2" text-anchor="middle" textLength="30" lengthAdjust="spacingAndGlyphs" transform="translate(341.0 600.2) rotate(-90)" class="pl pl">15' SB</text>
<line x1="367.1" y1="591.5" x2="367.1" y2="634.0" stroke="#222" stroke-width="0.8" />
<polygon points="367.1,591.5 368.4,597.7 365.8,597.7" fill="#111"/>
<polygon points="367.1,634.0 365.8,627.8 368.4,627.8" fill="#111"/>
<text x="0" y="0" font-size="10.2" text-anchor="middle" textLength="32.6" lengthAdjust="spacingAndGlyphs" transform="translate(363.6 614.3) rotate(-90)" class="pl pl">10' PUE</text>
<line x1="393.5" y1="548.3" x2="393.5" y2="574.1" stroke="#3a3a3a" stroke-width="0.7" />
<line x1="393.5" y1="608.6" x2="393.5" y2="635.0" stroke="#3a3a3a" stroke-width="0.7" />
<text x="0" y="0" font-size="9.6" text-anchor="middle" textLength="29.5" lengthAdjust="spacingAndGlyphs" transform="translate(396.7 591.4) rotate(-90.0)" class="pl i">20.00'</text>
<polygon points="393.5,548.3 394.8,554.5 392.2,554.5" fill="#111"/>
<polygon points="393.5,635.0 392.2,628.8 394.8,628.8" fill="#111"/>
<line x1="433.8" y1="548.3" x2="433.8" y2="573.6" stroke="#3a3a3a" stroke-width="0.7" />
<line x1="433.8" y1="608.1" x2="433.8" y2="635.2" stroke="#3a3a3a" stroke-width="0.7" />
<text x="0" y="0" font-size="9.6" text-anchor="middle" textLength="29.5" lengthAdjust="spacingAndGlyphs" transform="translate(437.0 590.9) rotate(-90.0)" class="pl i">20.42'</text>
<polygon points="433.8,548.3 435.1,554.5 432.5,554.5" fill="#111"/>
<polygon points="433.8,635.2 432.5,629.0 435.1,629.0" fill="#111"/>
<line x1="474.8" y1="553.0" x2="474.8" y2="576.9" stroke="#3a3a3a" stroke-width="0.7" />
<line x1="474.8" y1="607.9" x2="474.8" y2="635.0" stroke="#3a3a3a" stroke-width="0.7" />
<text x="0" y="0" font-size="9.6" text-anchor="middle" textLength="26" lengthAdjust="spacingAndGlyphs" transform="translate(478.0 592.4) rotate(-90.0)" class="pl i">20.19'</text>
<polygon points="474.8,553.0 476.1,559.2 473.5,559.2" fill="#111"/>
<polygon points="474.8,635.0 473.5,628.8 476.1,628.8" fill="#111"/>
<text x="413.6" y="281.0" font-size="19.6" textLength="25.0" lengthAdjust="spacing" style="stroke:#000;stroke-width:0.5px">119</text>
<text x="396.3" y="326.3" font-size="10" textLength="30.4" lengthAdjust="spacingAndGlyphs" text-anchor="middle" class="pl i">COV'D</text>
<text x="396.3" y="337.7" font-size="10.2" textLength="29" lengthAdjust="spacingAndGlyphs" text-anchor="middle" class="pl">PATIO</text>
<text x="396.0" y="392.6" font-size="11.5" textLength="58.2" lengthAdjust="spacingAndGlyphs" text-anchor="middle" class="pl">PLAN 1415</text>
<text x="397.5" y="403.9" font-size="9.6" textLength="37" lengthAdjust="spacingAndGlyphs" text-anchor="middle" class="pl">ELEV A</text>
<line x1="379" y1="405.3" x2="416" y2="405.3" stroke="#000" stroke-width="0.8" />
<text x="328.4" y="305.4" font-size="9.2" textLength="12.2" lengthAdjust="spacingAndGlyphs" class="pl i">AC</text>
<text x="358.0" y="508.8" font-size="10.4" textLength="33.3" lengthAdjust="spacingAndGlyphs" class="pl">PORCH</text>
<text x="433.7" y="501.9" font-size="10" textLength="38" lengthAdjust="spacingAndGlyphs" text-anchor="middle" class="pl i">2 - CAR</text>
<text x="433.7" y="513.7" font-size="10" textLength="42" lengthAdjust="spacingAndGlyphs" text-anchor="middle" class="pl i">GARAGE</text>
<text x="0" y="0" font-size="10" text-anchor="middle" textLength="26" lengthAdjust="spacingAndGlyphs" transform="translate(486.3 522.0) rotate(-90)" class="pl pl">GATE</text>
<text x="449.8" y="631.4" font-size="10.6" textLength="14.8" lengthAdjust="spacingAndGlyphs" class="pl">DW</text>
<text x="407.4" y="646.1" font-size="9.6" textLength="27" lengthAdjust="spacingAndGlyphs" class="pl">53.73'</text>
<text x="529.0" y="504.5" font-size="9.6" textLength="45.5" lengthAdjust="spacingAndGlyphs" class="pl">9'x4' PAD</text>
<text x="529.0" y="516.0" font-size="9.6" textLength="58" lengthAdjust="spacingAndGlyphs" class="pl">FOR REFUSE</text>
<text x="529.0" y="527.5" font-size="9.6" textLength="58" lengthAdjust="spacingAndGlyphs" class="pl i">CONTAINERS</text>
<path d="M492.8 494.0 L518.4 501.2 H527.3" fill="none" stroke="#222" stroke-width="0.7" />
<polygon points="492.8,494.0 496.9,494.1 496.4,496.1" fill="#222"/>
<text x="343.6" y="194.9" font-size="9.8" textLength="5.2" lengthAdjust="spacingAndGlyphs" class="pl">P</text>
<text x="346.6" y="197.5" font-size="9.8" textLength="5.0" lengthAdjust="spacingAndGlyphs" class="pl">L</text>
<text x="267.0" y="286.6" font-size="9.8" textLength="5.2" lengthAdjust="spacingAndGlyphs" class="pl">P</text>
<text x="270.0" y="289.20000000000005" font-size="9.8" textLength="5.0" lengthAdjust="spacingAndGlyphs" class="pl">L</text>
<text x="500.4" y="292.6" font-size="9.8" textLength="5.2" lengthAdjust="spacingAndGlyphs" class="pl">P</text>
<text x="503.4" y="295.20000000000005" font-size="9.8" textLength="5.0" lengthAdjust="spacingAndGlyphs" class="pl">L</text>
<text x="333.0" y="641.6" font-size="9.8" textLength="5.2" lengthAdjust="spacingAndGlyphs" class="pl">P</text>
<text x="336.0" y="644.2" font-size="9.8" textLength="5.0" lengthAdjust="spacingAndGlyphs" class="pl">L</text>
<text x="330.0" y="741.7" font-size="14.2" textLength="111" lengthAdjust="spacingAndGlyphs" class="lt2">SAMI JO DRIVE</text>
<text x="0" y="0" font-size="9.6" text-anchor="middle" textLength="32.5" lengthAdjust="spacingAndGlyphs" transform="translate(420.5 199.0) rotate(1.0)" class="pl i">50.00'</text>
<circle cx="634.0" cy="709.0" r="22.0" fill="#e0e0e0" stroke="none"/>
<clipPath id="ncl"><circle cx="634.0" cy="709.0" r="22.3"/></clipPath>
<polygon clip-path="url(#ncl)" points="653.4,703.9 669.8,688.2 669.8,734.7 647.9,723.8" fill="#fff"/>
<polygon points="613.0,704.4 639.7,688.9 637.7,697.1 653.4,703.9 647.9,723.8 630.8,720.4 627.7,729.2" fill="#fff" stroke="#333" stroke-width="0.6"/>
<circle cx="634.0" cy="709.0" r="22.0" fill="none" stroke="#333" stroke-width="0.7"/>
<circle cx="634.0" cy="709.0" r="23.8" fill="none" stroke="#333" stroke-width="0.7"/>
<text x="0" y="0" font-size="15.5" text-anchor="middle" class="lt" style="font-style:italic" transform="translate(641.6 712.2) rotate(-76)">N</text>
<line x1="591.2" y1="738.5" x2="677.8" y2="738.5" stroke="#000" stroke-width="0.9" />
<path d="M592.2 730.3 Q589.6 738.8 592.2 747.3" fill="none" stroke="#333" stroke-width="0.6" />
<path d="M676.8 730.3 Q679.4 738.8 676.8 747.3" fill="none" stroke="#333" stroke-width="0.6" />
<text x="618.5" y="752.2" font-size="10" textLength="17.0" lengthAdjust="spacingAndGlyphs">1" =</text>
<text x="638.5" y="752.2" font-size="10" textLength="13.5" lengthAdjust="spacingAndGlyphs" class="i">20'</text>
<path fill-rule="evenodd" d="M575 782.4 a20.65 20.1 0 1 0 41.3 0 a20.65 20.1 0 1 0 -41.3 0 Z M582.6 782.4 a13.05 15.0 0 1 1 26.1 0 a13.05 15.0 0 1 1 -26.1 0 Z" fill="#000"/>
<polygon points="598.5,787.9 606.2,787.9 617.7,802.9 610.0,802.9" fill="#000"/>
<rect x="617.4" y="762.9" width="5.9" height="39.4" fill="#000" stroke="#000" stroke-width="0" />
<polygon points="623.3,777.7 636.1,762.9 692.7,762.9 646.9,802.1 628.5,781.4 623.3,782.6" fill="#000"/>
<polygon points="623.3,782.6 627.2,780.3 645.7,802.1 638.1,802.3" fill="#000"/>
<line x1="628.0" y1="780.5" x2="646.9" y2="803.1" stroke="#fff" stroke-width="1.9" />
<line x1="628.7" y1="782.3" x2="644.8" y2="762.4" stroke="#fff" stroke-width="2.0" />
<line x1="634.3" y1="787.5" x2="654.7" y2="762.4" stroke="#fff" stroke-width="2.0" />
<line x1="639.2" y1="792.7" x2="666.4" y2="762.4" stroke="#fff" stroke-width="2.0" />
<line x1="643.5" y1="797.9" x2="678.7" y2="762.4" stroke="#fff" stroke-width="2.0" />
<text x="592.7" y="811.4" font-size="6.4" textLength="83.0" lengthAdjust="spacingAndGlyphs">QK PROJECT No. 210186.02</text>
<text x="577.4" y="819.3" font-size="6.2" textLength="108.0" lengthAdjust="spacingAndGlyphs" class="b">© COPYRIGHT BY QUAD KNOPF, INC.</text>
<text x="585.9" y="826.3" font-size="6.2" textLength="96.0" lengthAdjust="spacingAndGlyphs" class="b">UNAUTHORIZED USE PROHIBITED.</text>
<text x="30.6" y="771.9" font-size="8.4" textLength="112.8" lengthAdjust="spacingAndGlyphs" style="fill:#f4f4f4">REVISED :  16 August 2024  ??</text>
<text x="30.5" y="781.1" font-size="8.4" textLength="109.4" lengthAdjust="spacingAndGlyphs">DRAWN :  16 August 2024  KK</text>
<text x="32.3" y="801.1" font-size="13.6" textLength="25.0" lengthAdjust="spacingAndGlyphs" class="lt3">1415</text>
<text x="75.0" y="801.1" font-size="13.6" textLength="9.8" lengthAdjust="spacingAndGlyphs" class="lt3">A</text>
<text x="31.6" y="827.6" font-size="26.0" textLength="171.5" lengthAdjust="spacingAndGlyphs" class="lt">PLOT PLAN</text>
<text x="269.0" y="827.4" font-size="13.2" textLength="167.0" lengthAdjust="spacingAndGlyphs" class="lt2">ADDRESS :  4723 SAMI JO DRIVE</text>
<rect x="31.0" y="831.1" width="667.2" height="3.8" fill="#000" stroke="#000" stroke-width="0" />
<line x1="31.0" y1="838.5" x2="698.2" y2="838.5" stroke="#000" stroke-width="1.0" />
<text x="33.2" y="854.0" font-size="12.0" textLength="53.4" lengthAdjust="spacingAndGlyphs" class="lt2">LOT 119</text>
<text x="154.7" y="855.6" font-size="15" text-anchor="middle">•</text>
<text x="175.2" y="854.0" font-size="12.0" textLength="379.0" lengthAdjust="spacingAndGlyphs" class="lt2">BELLEVUE RANCH WEST VILLAGE 18A ~ PHASE 3</text>
<text x="575.1" y="855.6" font-size="15" text-anchor="middle">•</text>
<text x="602.6" y="854.0" font-size="12.0" textLength="95.6" lengthAdjust="spacingAndGlyphs" class="lt2">MERCED, CA</text>
<text x="241.8" y="868.3" font-size="12.0" textLength="240.6" lengthAdjust="spacingAndGlyphs" class="lt2">"SUNDIAL AT BELLEVUE RANCH"</text>
<text x="32.8" y="884.3" font-size="14.0" textLength="96.0" lengthAdjust="spacingAndGlyphs" class="lt3">SALES CONTACT:</text>
<line x1="130.7" y1="884.2" x2="284.2" y2="884.2" stroke="#000" stroke-width="1.0" />
<text x="32.8" y="900.1" font-size="14.0" textLength="100.5" lengthAdjust="spacingAndGlyphs" class="lt3">BUYER SIGNATURE</text>
<text x="139.0" y="899.4" font-size="9" textLength="2.2" lengthAdjust="spacingAndGlyphs">:</text>
<line x1="149.1" y1="899.0" x2="419.6" y2="899.0" stroke="#000" stroke-width="1.0" />
<text x="436.4" y="899.8" font-size="14.4" textLength="97.2" lengthAdjust="spacingAndGlyphs" class="lt3">APPROVAL DATE</text>
<text x="538.0" y="899.2" font-size="9" textLength="2.2" lengthAdjust="spacingAndGlyphs">:</text>
<line x1="552.1" y1="898.9" x2="698.2" y2="898.9" stroke="#000" stroke-width="1.0" />
<rect x="31.0" y="903.1" width="667.2" height="3.5" fill="#000" stroke="#000" stroke-width="0" />
<text x="33.4" y="923.3" font-size="20.0" textLength="116.4" lengthAdjust="spacing" class="se">CENTURY</text>
<text x="155.7" y="923.3" font-size="9.9" textLength="94.2" lengthAdjust="spacing" class="se">COMMUNITIES</text>
<text x="511.1" y="914.7" font-size="6.9" textLength="98.3" lengthAdjust="spacingAndGlyphs" style="fill:#3c3c3c">7330 N. Palm Ave., Suite 106</text>
<text x="619.0" y="914.7" font-size="6.9" textLength="78.4" lengthAdjust="spacingAndGlyphs" style="fill:#3c3c3c">Phone:  (559) 439-4464</text>
<text x="511.1" y="922.6" font-size="6.9" textLength="62.8" lengthAdjust="spacingAndGlyphs" style="fill:#3c3c3c">Fresno, CA  93711</text>
</svg>
</body></html>
